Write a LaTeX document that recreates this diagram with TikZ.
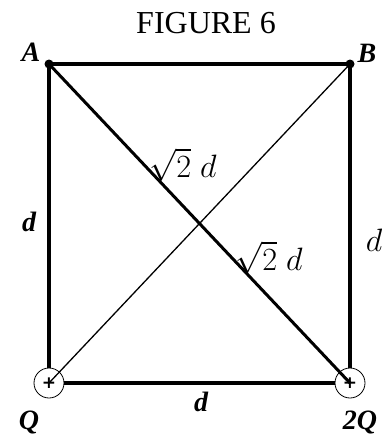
\documentclass[tikz,border=0pt]{standalone}
\usepackage{fontspec}
\setmainfont{Liberation Serif}
\newfontfamily\plusfont{DejaVu Sans}
\newcommand{\enlargemath}[1]{\scalebox{1.3}{#1}}
\begin{document}
\begin{tikzpicture}[x=1pt,y=-1pt,
  dotnode/.style={circle,fill=black,inner sep=0pt,minimum size=9pt},
  charge/.style={circle,draw,line width=0.8pt,inner sep=0pt,minimum size=30pt,font=\fontsize{17}{17}\plusfont\bfseries},
  thick line/.style={line width=3.4pt},
  thin line/.style={line width=1.3pt},
  lbl/.style={font=\fontsize{28}{30}\selectfont\bfseries\itshape,inner sep=0pt},
  mlbl/.style={font=\fontsize{24.88}{27}\selectfont,inner sep=0pt}]
\useasboundingbox (0,0) rectangle (382,437);
\node[font=\fontsize{32}{34}\selectfont,inner sep=0pt] (title) at (206,23) {FIGURE 6};
\node[dotnode] (A) at (49,64) {};
\node[dotnode] (B) at (350,64) {};
\node[charge] (q1) at (49,383) {+};
\node[charge] (q2) at (350,383) {+};
\draw[thick line] (A.center) -- (B.center);
\draw[thick line] (A.center) -- (q1);
\draw[thick line] (B.center) -- (q2);
\draw[thick line] (q1) -- (q2);
\draw[line width=3pt] (A.center) -- (q2.center);
\draw[thin line] (q1.center) -- (B.center);
\node[lbl] (la) at (31,52) {A};
\node[lbl] (lb) at (367,53) {B};
\node[lbl] (lq) at (29,422) {Q};
\node[lbl] (l2q) at (360,422) {2Q};
\node[lbl] (dl) at (29,222) {d};
\node[lbl] (db) at (201,402) {d};
\node[mlbl] (dr) at (374,240) {\enlargemath{$d$}};
\node[mlbl] (s1) at (183,165) {\enlargemath{$\sqrt{2}\;d$}};
\node[mlbl] (s2) at (269,258) {\enlargemath{$\sqrt{2}\;d$}};
\end{tikzpicture}
\end{document}
